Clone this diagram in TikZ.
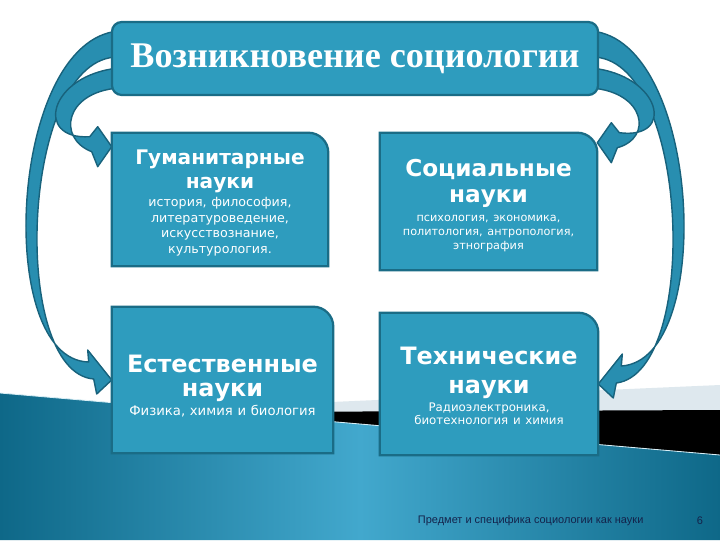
\documentclass[tikz,border=0pt]{standalone}
\usepackage{fontspec}
\setmainfont{DejaVu Sans}
\newfontfamily\titlefont{Liberation Serif}
\newfontfamily\footfont{Liberation Sans}
\usepackage{xcolor}
\usepackage{tikz}
\usetikzlibrary{calc}
\definecolor{cardfill}{RGB}{46,156,190}
\definecolor{cardedge}{RGB}{26,108,134}
\definecolor{arrowfill}{RGB}{40,142,176}
\definecolor{arrowedge}{RGB}{24,98,124}
\definecolor{seadark}{RGB}{14,104,136}
\definecolor{sealight}{RGB}{66,168,205}
\definecolor{mistgray}{RGB}{222,232,238}
\definecolor{footnavy}{RGB}{20,35,75}
\pgfdeclarelayer{backdrop}
\pgfdeclarelayer{cards}
\pgfsetlayers{backdrop,cards,main}
\tikzset{
  title-node/.style={draw=cardedge, fill=cardfill, line width=1.6pt, rounded corners=7pt,
    minimum width=12.15cm, minimum height=1.825cm, text=white,
    font=\titlefont\bfseries\fontsize{25.7}{30}\selectfont},
  card-node/.style={text=white, align=center, text width=5cm, inner sep=0pt},
  card-shape/.style={fill=cardfill, draw=cardedge, line width=1.6pt},
  block-arrow/.style={fill=arrowfill, draw=arrowedge, line width=1pt, line join=round},
  foot-text/.style={font=\footfont\fontsize{7.8}{9}\selectfont, text=footnavy}
}
% card outline: only the top right corner is rounded
\newcommand{\cardbox}[1]{%
  \draw[card-shape] (#1.south west) -- (#1.north west) -- ($(#1.north east)+(-0.5cm,0)$)
    arc[start angle=90, end angle=0, radius=0.5cm] -- (#1.south east) -- cycle;}

\begin{document}
\begin{tikzpicture}[x=0.025cm, y=-0.025cm]
\useasboundingbox (0,0) rectangle (720,540);

% slide backdrop
\begin{pgfonlayer}{backdrop}
  \fill[white] (0,0) rectangle (720,540);
  \fill[mistgray] (240,406) -- (720,385) -- (720,412) -- (240,412) -- cycle;
  \fill[black] (240,412) -- (720,410) -- (720,455) -- (240,413.7) -- cycle;
  \shade[left color=seadark, right color=seadark, middle color=sealight]
    (0,393) -- (720,455) -- (720,540) -- (0,540) -- cycle;
  \draw[white!80!sealight, line width=0.6pt] (0,393) -- (720,455);
\end{pgfonlayer}

\node[title-node] (title) at (355,58.5) {Возникновение социологии};

\node[card-node, minimum width=5.4cm, minimum height=3.325cm] (hum) at (220,199.5) {%
  {\bfseries\fontsize{14.3}{17}\selectfont\rule{0pt}{15.5pt}Гуманитарные\\науки\par}\vspace{1.5pt}
  {\fontsize{9}{11.2}\selectfont история, философия,\\литературоведение,\\искусствознание,\\культурология.\par}};
\node[card-node, minimum width=5.425cm, minimum height=3.425cm] (soc) at (488.5,201.5) {%
  {\bfseries\fontsize{16.5}{18.5}\selectfont\rule{0pt}{18pt}Социальные\\науки\par}\vspace{3.5pt}
  {\fontsize{8}{10}\selectfont психология, экономика,\\политология, антропология,\\этнография\par}};
\node[card-node, minimum width=5.525cm, minimum height=3.65cm] (nat) at (222.5,380) {%
  {\bfseries\fontsize{17}{17}\selectfont\rule{0pt}{21pt}Естественные\\науки\par}\vspace{3pt}
  {\fontsize{9.4}{11}\selectfont Физика, химия и биология\par}};
\node[card-node, minimum width=5.45cm, minimum height=3.55cm] (tech) at (489,384) {%
  {\bfseries\fontsize{17}{20}\selectfont\rule{0pt}{15.2pt}Технические\\науки\par}\vspace{2pt}
  {\fontsize{8.4}{9.4}\selectfont Радиоэлектроника,\\биотехнология и химия\par}};

\node[foot-text, anchor=west] (foot) at (413,521) {Предмет и специфика социологии как науки};
\node[foot-text] (pagenum) at (700,521) {6};

\begin{pgfonlayer}{cards}
  \foreach \sd/\sg/\ua/\ub/\dy/\lo in {west/1/hum/north west/14/nat, east/-1/soc/north east/10/tech}{
    % long arrow to the lower card
    \draw[block-arrow]
      ($(title.\sd)+({\sg*8},-27.5)$)
      .. controls ($(title.\sd)+({\sg*-102},-18.5)$) and ($(title.\sd)+({\sg*-117},301.5)$) ..
      ($(\lo.\sd)+({\sg*-23},-18)$)
      -- ($(\lo.\sd)+({\sg*-24},-30)$)
      -- (\lo.\sd)
      -- ($(\lo.\sd)+({\sg*-15},14)$)
      -- ($(\lo.\sd)+({\sg*-18},-1)$)
      .. controls ($(title.\sd)+({\sg*-102},313.5)$) and ($(title.\sd)+({\sg*-90},-3.5)$) ..
      ($(title.\sd)+({\sg*8},-1.5)$) -- cycle;
    % short arrow to the upper card
    \coordinate (tip) at ($(\ua.\ub)+(0,\dy)$);
    \draw[block-arrow]
      ($(title.\sd)+({\sg*8},9.5)$)
      .. controls ($(title.\sd)+({\sg*-62},16.5)$) and ($(title.\sd)+({\sg*-77},81.5)$) ..
      ($(tip)+({\sg*-22},-10)$)
      -- ($(tip)+({\sg*-14},-20)$) -- (tip) -- ($(tip)+({\sg*-14},20)$)
      -- ($(tip)+({\sg*-20},5)$)
      .. controls ($(title.\sd)+({\sg*-54},79.5)$) and ($(title.\sd)+({\sg*-46},33.5)$) ..
      ($(title.\sd)+({\sg*8},29.5)$) -- cycle;
  }
  \cardbox{hum}
  \cardbox{soc}
  \cardbox{nat}
  \cardbox{tech}
\end{pgfonlayer}
\end{tikzpicture}
\end{document}
